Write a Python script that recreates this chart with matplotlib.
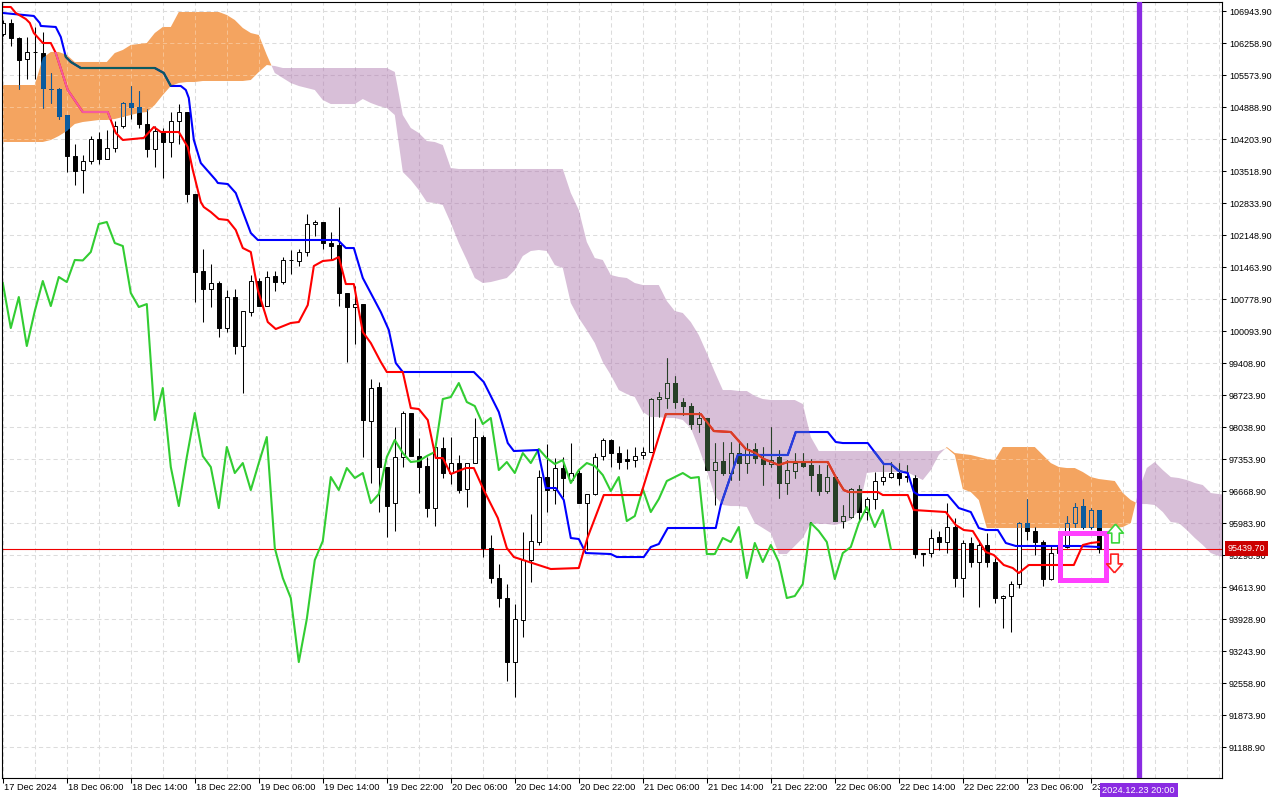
import numpy as np
import matplotlib
matplotlib.use("Agg")
import matplotlib.pyplot as plt
from matplotlib.path import Path
from matplotlib.patches import Rectangle
from matplotlib.transforms import blended_transform_factory

plt.rcParams['font.family'] = ['Liberation Sans', 'DejaVu Sans']

# H1 candles, bar 0 = 17 Dec 2024 22:00
opens = [
    106458, 106694, 106372, 105923, 106062, 106051, 105281, 105281, 104724, 103846,
    103546, 103739, 104210, 103782, 104017, 104488, 104981, 104895, 104531, 103996,
    104381, 104146, 104595, 104788, 103032, 101384, 100998, 101127, 100163, 100827,
    99778, 100506, 101170, 100634, 101277, 101148, 101620, 101598, 101791, 102390,
    102433, 101983, 101941, 100913, 100613, 100677, 98172, 98900, 97188, 96416,
    97402, 98344, 97423, 97209, 96309, 97594, 97059, 97273, 96716, 97273,
    97830, 95453, 94811, 94383, 93013, 93911, 95196, 95582, 96973, 96695,
    97166, 96909, 97059, 96416, 96609, 97423, 97766, 97487, 97359, 97337,
    97445, 97509, 98643, 98665, 98986, 98579, 98493, 98108, 98237, 97123,
    97316, 97059, 97487, 97273, 97573, 97359, 97252, 97402, 96845, 97102,
    97295, 97230, 97038, 96673, 96973, 96031, 96117, 96716, 96224, 96502,
    96888, 96973, 97059, 96995, 96952, 95346, 95346, 95689, 95582, 95903,
    94811, 95561, 95154, 95518, 95154, 94383, 94426, 94682, 95989, 95817,
    95582, 94789, 95346, 95475, 95989, 96352, 95903, 96267]
highs = [
    106758, 106779, 106394, 106394, 106608, 106501, 105623, 105302, 104724, 104103,
    103868, 104274, 104360, 104403, 104595, 105002, 105345, 105238, 104852, 104488,
    104446, 104788, 104959, 104788, 103032, 101855, 101534, 101170, 100977, 100998,
    100527, 101298, 101234, 101384, 101384, 101684, 101834, 101855, 102604, 102476,
    102433, 102219, 102754, 100913, 101063, 100677, 99072, 99007, 97188, 98044,
    98387, 98344, 97808, 97402, 97701, 97830, 97830, 97445, 97273, 98237,
    97873, 95732, 95111, 94682, 94255, 95796, 96181, 97123, 97680, 97380,
    97402, 97701, 97123, 96609, 97487, 97808, 97787, 97637, 97573, 97616,
    97616, 98665, 98793, 99521, 99136, 98665, 98558, 98365, 98237, 97701,
    97723, 97723, 97701, 97701, 97701, 97616, 98044, 97552, 97337, 97487,
    97487, 97359, 97230, 97230, 96973, 96374, 96738, 96802, 96545, 97081,
    97230, 97295, 97273, 97230, 97016, 95346, 95860, 95817, 96416, 96096,
    95625, 95689, 95625, 95775, 95240, 94447, 94747, 96010, 96502, 95903,
    95625, 95518, 95625, 96138, 96416, 96502, 96309, 96267]
lows = [
    106415, 106201, 105281, 105495, 105495, 104874, 104981, 104638, 103503, 103225,
    103054, 103675, 103675, 103782, 103932, 104446, 104638, 104446, 103825, 103611,
    103375, 103825, 104103, 102861, 100720, 100292, 100613, 99971, 100078, 99607,
    98772, 100420, 100634, 100634, 100956, 101105, 101320, 101491, 101705, 102133,
    101855, 101620, 100634, 99436, 99821, 97402, 96845, 96224, 95689, 95817,
    97188, 97423, 96631, 96117, 95925, 96952, 96824, 96631, 96331, 97273,
    95261, 94704, 94190, 92606, 92263, 93548, 94725, 95518, 96224, 96395,
    96545, 96867, 96416, 95411, 96588, 97337, 97188, 97145, 97145, 97188,
    97359, 97509, 98258, 98451, 98451, 98301, 98001, 97937, 97123, 96374,
    97016, 96909, 96909, 97059, 97273, 96802, 97188, 96524, 96609, 96952,
    97188, 96673, 96588, 96631, 96031, 95882, 96096, 96053, 96053, 96288,
    96802, 96952, 96802, 96867, 95240, 95068, 95261, 95411, 95346, 94618,
    94404, 95047, 94190, 95047, 94276, 93740, 93655, 94597, 95625, 95303,
    94640, 94768, 95196, 95453, 95903, 95860, 95860, 95346]
closes = [
    106694, 106372, 105901, 106073, 106073, 105302, 105270, 104702, 103846, 103525,
    103739, 104210, 103782, 104017, 104488, 104981, 104895, 104531, 103996, 104381,
    104146, 104595, 104788, 103032, 101363, 100998, 101127, 100163, 100827, 99778,
    100527, 101170, 100634, 101256, 101148, 101620, 101610, 101791, 102390, 102433,
    101983, 101919, 100913, 100613, 100677, 98194, 98879, 97188, 96352, 97402,
    98344, 97423, 97188, 96309, 97616, 97059, 97273, 96695, 97273, 97830,
    95453, 94811, 94383, 93013, 93933, 95196, 95603, 96973, 96695, 97166,
    96952, 97059, 96416, 96609, 97402, 97766, 97487, 97295, 97316, 97423,
    97509, 98643, 98686, 98986, 98579, 98493, 98108, 98237, 97123, 97295,
    97059, 97487, 97273, 97573, 97380, 97252, 97337, 96845, 97123, 97273,
    97209, 97016, 96673, 96973, 96031, 96138, 96716, 96224, 96502, 96888,
    96973, 97059, 96952, 96973, 95325, 95325, 95668, 95582, 95903, 94811,
    95561, 95154, 95518, 95154, 94383, 94426, 94682, 95989, 95817, 95582,
    94789, 95346, 95475, 95989, 96331, 95903, 96267, 95439.70]

# Tenkan-sen (red): bar position, price
tenkan_bars = [
    0, 1, 1.62, 2.88, 3.38, 3.88, 5, 6, 6.62, 8.12,
    10, 13.12, 14.12, 15, 17.62, 18.88, 19.75, 22, 23.12, 23.75,
    24.75, 25.12, 26, 27, 28.12, 29.12, 30, 31, 31.88, 33.12,
    34.12, 36, 37, 38.12, 38.88, 40, 41.25, 42, 42.88, 43.88,
    45, 46, 47.25, 48, 50, 51, 52, 53.12, 54.12, 55,
    56, 57.88, 58.88, 60.12, 61.88, 63, 63.88, 68.5, 72, 73.12,
    75.12, 79.75, 82.88, 87.25, 88.88, 91, 92.88, 94.12, 95.12, 97,
    98.12, 103.12, 104.12, 105.12, 105.75, 109.38, 110, 113.12, 113.88, 117.88,
    119.12, 120.12, 121.25, 122.88, 123.88, 125.12, 126.25, 127, 128.25, 133.88,
    135, 136, 137]
tenkan_vals = [
    107036, 107036, 106908, 106779, 106694, 106479, 106265, 106265, 106051, 105259,
    104788, 104788, 104339, 104189, 104232, 104467, 104360, 104360, 104039, 103546,
    102861, 102754, 102647, 102497, 102476, 102262, 101876, 101791, 100977, 100292,
    100142, 100271, 100292, 100656, 101491, 101598, 101620, 101684, 101105, 101105,
    100078, 99842, 99436, 99222, 99222, 98451, 98429, 98194, 97380, 97380,
    97038, 97166, 97166, 96695, 96096, 95453, 95261, 95004, 95025, 95689,
    96588, 96588, 98322, 98322, 97958, 97937, 97573, 97487, 97359, 97230,
    97295, 97295, 96973, 96695, 96652, 96652, 96588, 96588, 96267, 96224,
    95947, 95839, 95817, 95368, 95303, 95090, 95025, 94918, 95090, 95090,
    95518, 95561, 95582]

# Kijun-sen (blue)
kijun_bars = [
    0, 3.88, 4.62, 4.75, 6.62, 7.25, 7.88, 8.5, 9.75, 19,
    20.12, 21, 22.25, 22.88, 23.25, 23.88, 24.75, 26.62, 26.88, 28.12,
    29.12, 31, 31.88, 41.88, 42.88, 43.88, 45, 47.25, 48.25, 49.12,
    50, 58.88, 60.12, 62, 63.12, 63.88, 66.88, 67.88, 69.12, 70.12,
    71, 72, 72.88, 76, 76.75, 80.12, 81, 82, 83.12, 89.12,
    89.75, 91.88, 98.12, 99.12, 103.12, 104.12, 105, 108.12, 110.12, 111,
    112, 113.12, 113.88, 114.5, 118.12, 119.5, 121, 122, 122.88, 124.38,
    125.38, 126.62, 134.5, 137]
kijun_vals = [
    106908, 106844, 106694, 106630, 106608, 106394, 105966, 105859, 105730, 105730,
    105623, 105345, 105345, 105259, 105088, 104189, 103696, 103332, 103268, 103246,
    103054, 102198, 102048, 102048, 101876, 101876, 101234, 100506, 100121, 99414,
    99222, 99222, 99007, 98365, 97701, 97530, 97552, 96738, 96738, 96481,
    95668, 95646, 95346, 95325, 95261, 95261, 95475, 95539, 95882, 95882,
    96374, 97445, 97445, 97937, 97937, 97723, 97701, 97701, 97252, 97252,
    97102, 97059, 96652, 96588, 96588, 96309, 96224, 95882, 95839, 95839,
    95561, 95497, 95497, 95475]

# Senkou span A / B per bar (cloud), bars 0..153
senkou_a = [
    105366, 105366, 105366, 105366, 105366, 105944, 106073, 106073, 106009, 105859,
    105859, 105859, 105859, 105859, 106051, 106116, 106223, 106244, 106265, 106479,
    106608, 106608, 106929, 106929, 106929, 106929, 106929, 106929, 106865, 106758,
    106587, 106479, 106437, 106009, 105623, 105516, 105409, 105345, 105302, 105259,
    105045, 104959, 104959, 104959, 104959, 105066, 104981, 104917, 104874, 104724,
    103503, 103332, 103118, 102861, 102840, 102797, 102412, 101983, 101620, 101234,
    101127, 101148, 101191, 101234, 101405, 101705, 101812, 101834, 101812, 101512,
    101448, 100699, 100378, 100121, 99843, 99436, 99157, 98836, 98750, 98686,
    98365, 98258, 98258, 98237, 98237, 98194, 98023, 97594, 97123, 96567,
    96374, 96352, 96352, 96331, 95989, 95882, 95775, 95325, 95325, 95497,
    95668, 95989, 95968, 95968, 95946, 95989, 96053, 96267, 97059, 97081,
    97081, 97081, 97081, 97081, 96995, 96909, 97123, 97445, 97616, 97487,
    97466, 97445, 97402, 97359, 97337, 97616, 97616, 97616, 97616, 97616,
    97445, 97273, 97188, 97166, 97166, 97081, 96973, 96931, 96909, 96888,
    96631, 96481, 96395, 96395, 96374, 96224, 96010, 95989, 95839, 95668,
    95518, 95346, 95282, 95261]
senkou_b = [
    104146, 104146, 104146, 104146, 104146, 104146, 104189, 104274, 104381, 104531,
    104574, 104595, 104617, 104617, 104638, 104681, 104724, 104767, 104788, 104938,
    105152, 105345, 105409, 105430, 105430, 105452, 105452, 105452, 105452, 105452,
    105452, 105473, 105645, 105794, 105773, 105730, 105730, 105730, 105730, 105730,
    105730, 105730, 105730, 105730, 105730, 105730, 105730, 105730, 105730, 105645,
    104724, 104446, 104339, 104167, 104146, 104081, 103589, 103568, 103568, 103568,
    103568, 103568, 103568, 103568, 103568, 103568, 103568, 103568, 103568, 103568,
    103568, 103054, 102690, 102005, 101662, 101620, 101298, 101256, 101234, 101127,
    101084, 101084, 101084, 100742, 100527, 100485, 100292, 100013, 99628, 99222,
    98836, 98836, 98815, 98815, 98708, 98643, 98622, 98622, 98622, 98622,
    98536, 97830, 97530, 97530, 97530, 97530, 97530, 97530, 97530, 97530,
    97530, 97530, 97530, 97530, 97530, 97530, 97530, 97530, 97594, 97445,
    96716, 96652, 96481, 95882, 95882, 95882, 95882, 95882, 95882, 95882,
    95882, 95882, 95882, 95882, 95882, 95882, 95882, 95882, 95882, 95882,
    95903, 95989, 96695, 97166, 97295, 97123, 96973, 96952, 96909, 96845,
    96802, 96631, 96609, 96588]

price_ticks = [
    91188.90, 91873.90, 92558.90, 93243.90, 93928.90, 94613.90, 95298.90, 95983.90,
    96668.90, 97353.90, 98038.90, 98723.90, 99408.90, 100093.90, 100778.90, 101463.90,
    102148.90, 102833.90, 103518.90, 104203.90, 104888.90, 105573.90, 106258.90, 106943.90]
time_labels = [
    "17 Dec 2024", "18 Dec 06:00", "18 Dec 14:00", "18 Dec 22:00", "19 Dec 06:00",
    "19 Dec 14:00", "19 Dec 22:00", "20 Dec 06:00", "20 Dec 14:00", "20 Dec 22:00",
    "21 Dec 06:00", "21 Dec 14:00", "21 Dec 22:00", "22 Dec 06:00", "22 Dec 14:00",
    "22 Dec 22:00", "23 Dec 06:00", "23 Dec 14:00"]
time_label_bars = list(range(0, 137, 8))

last_price = 95439.70
marker_bar = 142
marker_text = "2024.12.23 20:00"

BLACK = (0, 0, 0)
WHITE = (255, 255, 255)
RED = (255, 0, 0)
BLUE = (0, 0, 255)
LIME = (50, 205, 50)
# the terminal paints the cloud in XOR mode, so anything under it gets these inverted colours
INV_ORANGE = (11, 91, 159)
INV_THISTLE = (39, 64, 39)


def col(rgb, inv=None):
    if inv is None:
        return tuple(c / 255 for c in rgb)
    return tuple((c ^ i) / 255 for c, i in zip(rgb, inv))


def draw_layer(ax, inv=None, clip=None, z=2):
    o = np.array(opens, dtype=float)
    c = np.array(closes, dtype=float)
    x = np.arange(len(o))
    arts = [ax.vlines(x, lows, highs, colors=[col(BLACK, inv)], lw=0.75, zorder=z)]
    body_low = np.minimum(o, c)
    body_h = np.maximum(np.abs(c - o), 8)
    face = [col(WHITE, inv) if up else col(BLACK, inv) for up in c >= o]
    bars = ax.bar(x, body_h, bottom=body_low, width=0.56, color=face,
                  edgecolor=col(BLACK, inv), lw=0.7, zorder=z + 0.1)
    arts += list(bars.patches)
    # chikou span = close moved back 26 bars
    arts += ax.plot(x[26:] - 26, c[26:], color=col(LIME, inv), lw=1.5, zorder=z + 0.2)
    arts += ax.plot(kijun_bars, kijun_vals, color=col(BLUE, inv), lw=1.5, zorder=z + 0.3)
    arts += ax.plot(tenkan_bars, tenkan_vals, color=col(RED, inv), lw=1.5, zorder=z + 0.4)
    if clip is not None:
        for a in arts:
            a.set_clip_path(clip, ax.transData)


def draw_grid(ax, color, clip=None, z=0.5):
    arts = []
    for b in range(0, 156, 4):
        arts.append(ax.axvline(b, color=color, lw=0.75, ls=(0, (4, 3)), zorder=z))
    for p in price_ticks:
        arts.append(ax.axhline(p, color=color, lw=0.75, ls=(0, (4, 3)), zorder=z))
    if clip is not None:
        for a in arts:
            a.set_clip_path(clip, ax.transData)


fig = plt.figure(figsize=(12.8, 8), dpi=100)
ax = fig.add_axes([2 / 1280, 22 / 800, 1220 / 1280, 776 / 800])
ax.set_xlim(-0.1, 152.4)
ax.set_ylim(90530, 107143)

draw_grid(ax, '#dcdcdc')

xc = np.arange(len(senkou_a))
sa = np.array(senkou_a, dtype=float)
sb = np.array(senkou_b, dtype=float)
orange = ax.fill_between(xc, sa, sb, where=sa >= sb, interpolate=True,
                         color='#f4a460', lw=0, zorder=1)
thistle = ax.fill_between(xc, sa, sb, where=sa < sb, interpolate=True,
                          color='#d8bfd8', lw=0, zorder=1)

ax.axhline(last_price, color='#f00000', lw=0.8, zorder=1.8)

draw_layer(ax)

for cloud, inv, gcol in ((orange, INV_ORANGE, '#f8c190'), (thistle, INV_THISTLE, '#c6abc6')):
    clip = Path.make_compound_path(*cloud.get_paths())
    draw_grid(ax, gcol, clip=clip, z=1.2)
    draw_layer(ax, inv, clip=clip, z=4)

# signal box and arrows on the last bars
ax.add_patch(Rectangle((132.2, 94779), 5.7, 1006, fill=False,
                       edgecolor='#ff40ff', lw=3.6, zorder=6))
up_arrow = Path([(0, 0.5), (0.42, 0.02), (0.2, 0.02), (0.2, -0.5),
                 (-0.2, -0.5), (-0.2, 0.02), (-0.42, 0.02), (0, 0.5)])
down_arrow = Path([(0, -0.5), (0.42, -0.02), (0.2, -0.02), (0.2, 0.5),
                   (-0.2, 0.5), (-0.2, -0.02), (-0.42, -0.02), (0, -0.5)])
ax.plot([139.06], [95768], marker=up_arrow, ms=13.5, mfc='white',
        mec='#3ad63a', mew=1.2, zorder=7)
ax.plot([138.96], [95143], marker=down_arrow, ms=13.5, mfc='white',
        mec='#ff2020', mew=1.2, zorder=7)

ax.axvline(marker_bar, color='#8a2be2', lw=3.8, zorder=6)

# axes styling
for s in ax.spines.values():
    s.set_color('black')
    s.set_linewidth(0.8)
ax.set_facecolor('white')
ax.yaxis.tick_right()
ax.set_yticks(price_ticks)
ax.set_yticklabels([f"{p:.2f}" for p in price_ticks])
ax.tick_params(axis='y', which='both', direction='out', length=3, width=0.75,
               pad=2, labelsize=6.5, left=False, right=True, labelright=True, labelleft=False)
ax.set_xticks(time_label_bars)
ax.tick_params(axis='x', direction='out', length=3.5, width=0.75, labelbottom=False)

xtrans = blended_transform_factory(ax.transData, ax.transAxes)
for b, lab in zip(time_label_bars, time_labels):
    ax.text(b + 0.15, -0.0065, lab, transform=xtrans, ha='left', va='top',
            fontsize=6.7, color='black', clip_on=False)

ax.text(marker_bar, -0.0155, marker_text, transform=xtrans, ha='center', va='center',
        fontsize=6.7, color='white', zorder=10,
        bbox=dict(boxstyle='square,pad=0.3', fc='#8a2be2', ec='none'))

ytrans = blended_transform_factory(ax.transAxes, ax.transData)
ax.text(1.0047, last_price, f"{last_price:.2f}", transform=ytrans, ha='left', va='center',
        fontsize=6.5, color='white', zorder=10,
        bbox=dict(boxstyle='square,pad=0.3', fc='#cc0000', ec='none'))

fig.savefig("out.png", dpi=100, facecolor='white')
